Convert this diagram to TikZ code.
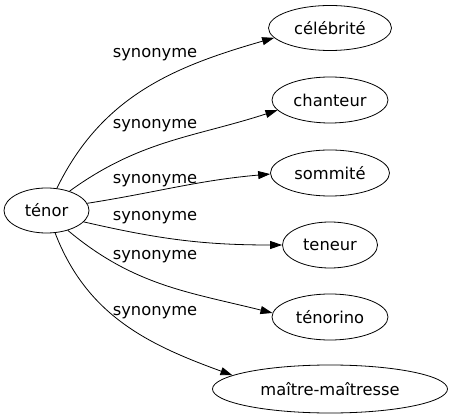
\documentclass[tikz,border=0pt]{standalone}
\usepackage{fontspec}
\setmainfont{DejaVu Sans}
\usepackage{tikz}
\usetikzlibrary{shapes}
\usetikzlibrary{arrows.meta}
\begin{document}
\begin{tikzpicture}[x=1pt, y=1pt, line width=0.8pt, >={Triangle[length=12pt, width=8pt]},
			word/.style={draw, ellipse, minimum height=46pt, inner sep=0pt, font=\fontsize{16.3}{19}\selectfont},
			relation/.style={inner sep=0pt, font=\fontsize{16.3}{19}\selectfont}]
			\useasboundingbox (0, 0) rectangle (452, -419);
			
			\node[word, minimum width=85pt, minimum height=45pt](tenor) at (46.5, -210.5) {ténor};
			
			\node[word, minimum width=123pt, minimum height=45pt](celebrite) at (330, -28) {célébrité};
			\node[word, minimum width=116pt](chanteur) at (330, -100) {chanteur};
			\node[word, minimum width=119pt](sommite) at (330, -173) {sommité};
			\node[word, minimum width=95pt](teneur) at (330, -245) {teneur};
			\node[word, minimum width=116pt](tenorino) at (330, -317) {ténorino};
			\node[word, minimum width=235pt, minimum height=48pt](maitre) at (330, -389) {maître-maîtresse};
			
			\draw[->] (tenor.65) to[out=64, in=196] (celebrite.190);
			\node[relation](rel1) at (155, -55) {synonyme};
			
			\draw[->] (tenor.40) to[out=36, in=198] (chanteur.191);
			\node[relation](rel2) at (155, -126) {synonyme};
			
			\draw[->] (tenor.10) to[out=9, in=185] (sommite.181);
			\node[relation](rel3) at (155, -181) {synonyme};
			
			\draw[->] (tenor.-17) to[out=-13, in=180] (teneur.west);
			\node[relation](rel4) at (155, -218) {synonyme};
			
			\draw[->] (tenor.-43) to[out=-40, in=166] (tenorino.176);
			\node[relation](rel5) at (155, -257) {synonyme};
			
			\draw[->] (tenor.-69) to[out=-69, in=160] (maitre.172);
			\node[relation](rel6) at (155, -313) {synonyme};
			\end{tikzpicture}
\end{document}
